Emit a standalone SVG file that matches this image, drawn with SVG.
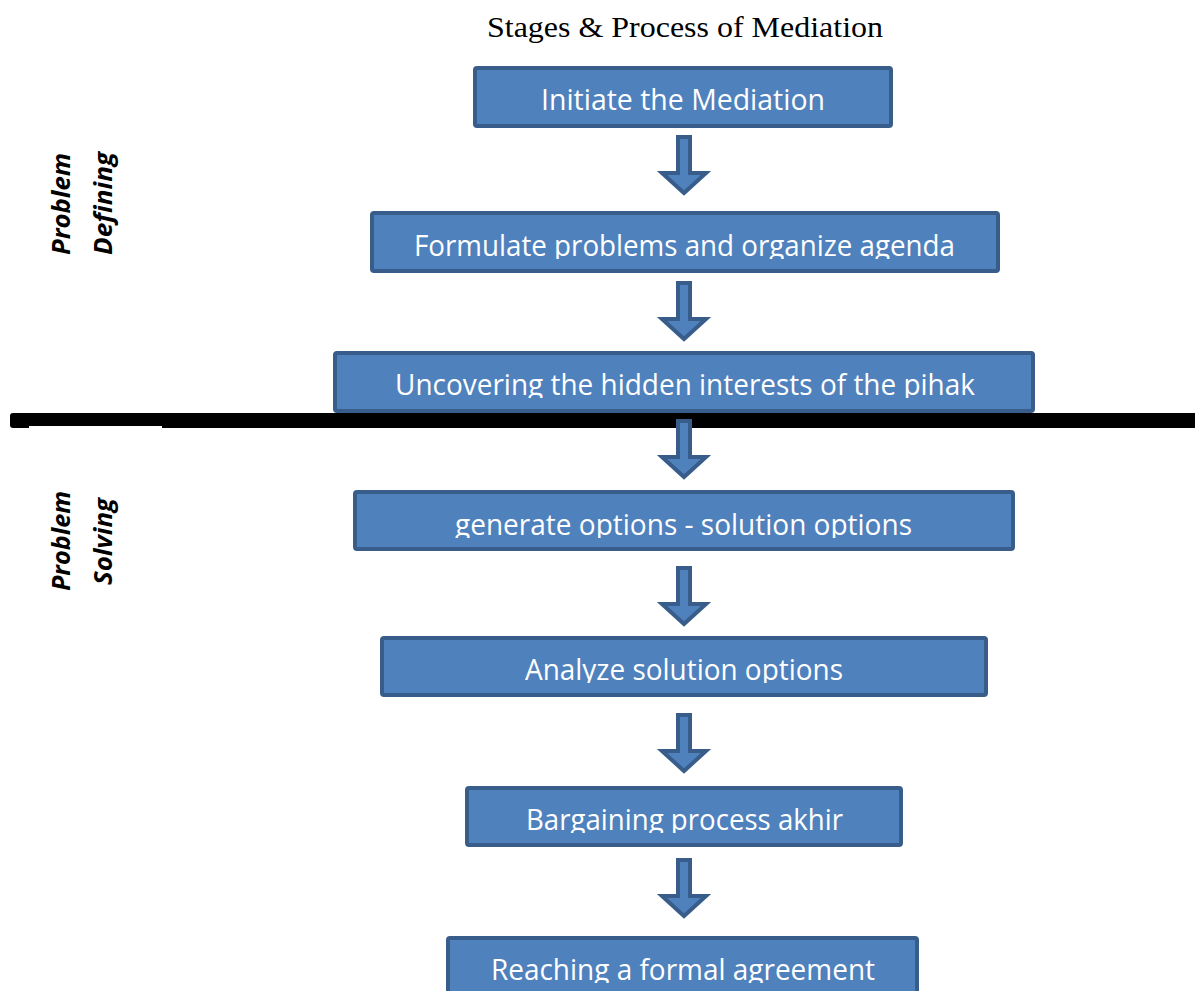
<svg xmlns="http://www.w3.org/2000/svg" width="1195" height="991" viewBox="0 0 1195 991">
<style>
.box{fill:#4f81bd;stroke:#385d8a;stroke-width:4}
.arrow{fill:#4f81bd;stroke:#385d8a;stroke-width:4;stroke-linejoin:miter}
.lbl{font-family:"Open Sans","Noto Sans","Liberation Sans",sans-serif;font-size:30px;fill:#ffffff;text-anchor:start}
.side{font-family:"Open Sans","Noto Sans","Liberation Sans",sans-serif;font-size:25px;font-weight:bold;font-style:italic;fill:#000000}
.title{font-family:"Liberation Serif","Times New Roman",serif;font-size:29px;fill:#000000}
</style>
<defs>
<path id="arr" d="M -6 2 H 6 V 38 H 22 L 0 58 L -22 38 H -6 Z"/>
<clipPath id="c1"><rect x="0" y="0" width="1195" height="113"/></clipPath>
<clipPath id="c2"><rect x="0" y="0" width="1195" height="259"/></clipPath>
<clipPath id="c3"><rect x="0" y="0" width="1195" height="398"/></clipPath>
<clipPath id="c4"><rect x="0" y="0" width="1195" height="538"/></clipPath>
<clipPath id="c5"><rect x="0" y="0" width="1195" height="683"/></clipPath>
<clipPath id="c6"><rect x="0" y="0" width="1195" height="833"/></clipPath>
<clipPath id="c7"><rect x="0" y="0" width="1195" height="983"/></clipPath>
</defs>
<rect width="1195" height="991" fill="#ffffff"/>

<text class="title" x="487" y="37" textLength="396" lengthAdjust="spacingAndGlyphs">Stages &amp; Process of Mediation</text>

<g id="divider">
<path d="M 13 413 H 1195 V 428 H 162 V 426 H 29 V 428 H 13 Q 10 428 10 425 V 416 Q 10 413 13 413 Z" fill="#000000"/>
</g>

<g id="label-defining">
<text class="side" transform="translate(70,255) rotate(-90)" textLength="102" lengthAdjust="spacingAndGlyphs">Problem</text>
<text class="side" transform="translate(112,255) rotate(-90)" textLength="103" lengthAdjust="spacingAndGlyphs">Defining</text>
</g>
<g id="label-solving">
<text class="side" transform="translate(70,591) rotate(-90)" textLength="100" lengthAdjust="spacingAndGlyphs">Problem</text>
<text class="side" transform="translate(112,585) rotate(-90)" textLength="87" lengthAdjust="spacingAndGlyphs">Solving</text>
</g>

<g id="n1">
<rect class="box" x="475" y="68" width="416" height="58" rx="2"/>
<text class="lbl" x="541" y="110" textLength="284" lengthAdjust="spacingAndGlyphs" clip-path="url(#c1)">Initiate the Mediation</text>
</g>
<g id="n2">
<rect class="box" x="372" y="213" width="626" height="58" rx="2"/>
<text class="lbl" x="414" y="256" textLength="541" lengthAdjust="spacingAndGlyphs" clip-path="url(#c2)">Formulate problems and organize agenda</text>
</g>
<g id="n3">
<rect class="box" x="335" y="353" width="698" height="58" rx="2"/>
<text class="lbl" x="395" y="395" textLength="580" lengthAdjust="spacingAndGlyphs" clip-path="url(#c3)">Uncovering the hidden interests of the pihak</text>
</g>
<g id="n4">
<rect class="box" x="355" y="492" width="658" height="57" rx="2"/>
<text class="lbl" x="455" y="535" textLength="457" lengthAdjust="spacingAndGlyphs" clip-path="url(#c4)">generate options - solution options</text>
</g>
<g id="n5">
<rect class="box" x="382" y="638" width="604" height="57" rx="2"/>
<text class="lbl" x="525" y="680" textLength="318" lengthAdjust="spacingAndGlyphs" clip-path="url(#c5)">Analyze solution options</text>
</g>
<g id="n6">
<rect class="box" x="467" y="788" width="434" height="57" rx="2"/>
<text class="lbl" x="526" y="830" textLength="317" lengthAdjust="spacingAndGlyphs" clip-path="url(#c6)">Bargaining process akhir</text>
</g>
<g id="n7">
<rect class="box" x="448" y="938" width="469" height="70" rx="2"/>
<text class="lbl" x="491" y="980" textLength="384" lengthAdjust="spacingAndGlyphs" clip-path="url(#c7)">Reaching a formal agreement</text>
</g>

<g id="connectors">
<use href="#arr" class="arrow" transform="translate(684,135)"/>
<use href="#arr" class="arrow" transform="translate(684,281)"/>
<use href="#arr" class="arrow" transform="translate(684,419)"/>
<use href="#arr" class="arrow" transform="translate(684,566)"/>
<use href="#arr" class="arrow" transform="translate(684,713)"/>
<use href="#arr" class="arrow" transform="translate(684,858)"/>
</g>
</svg>
